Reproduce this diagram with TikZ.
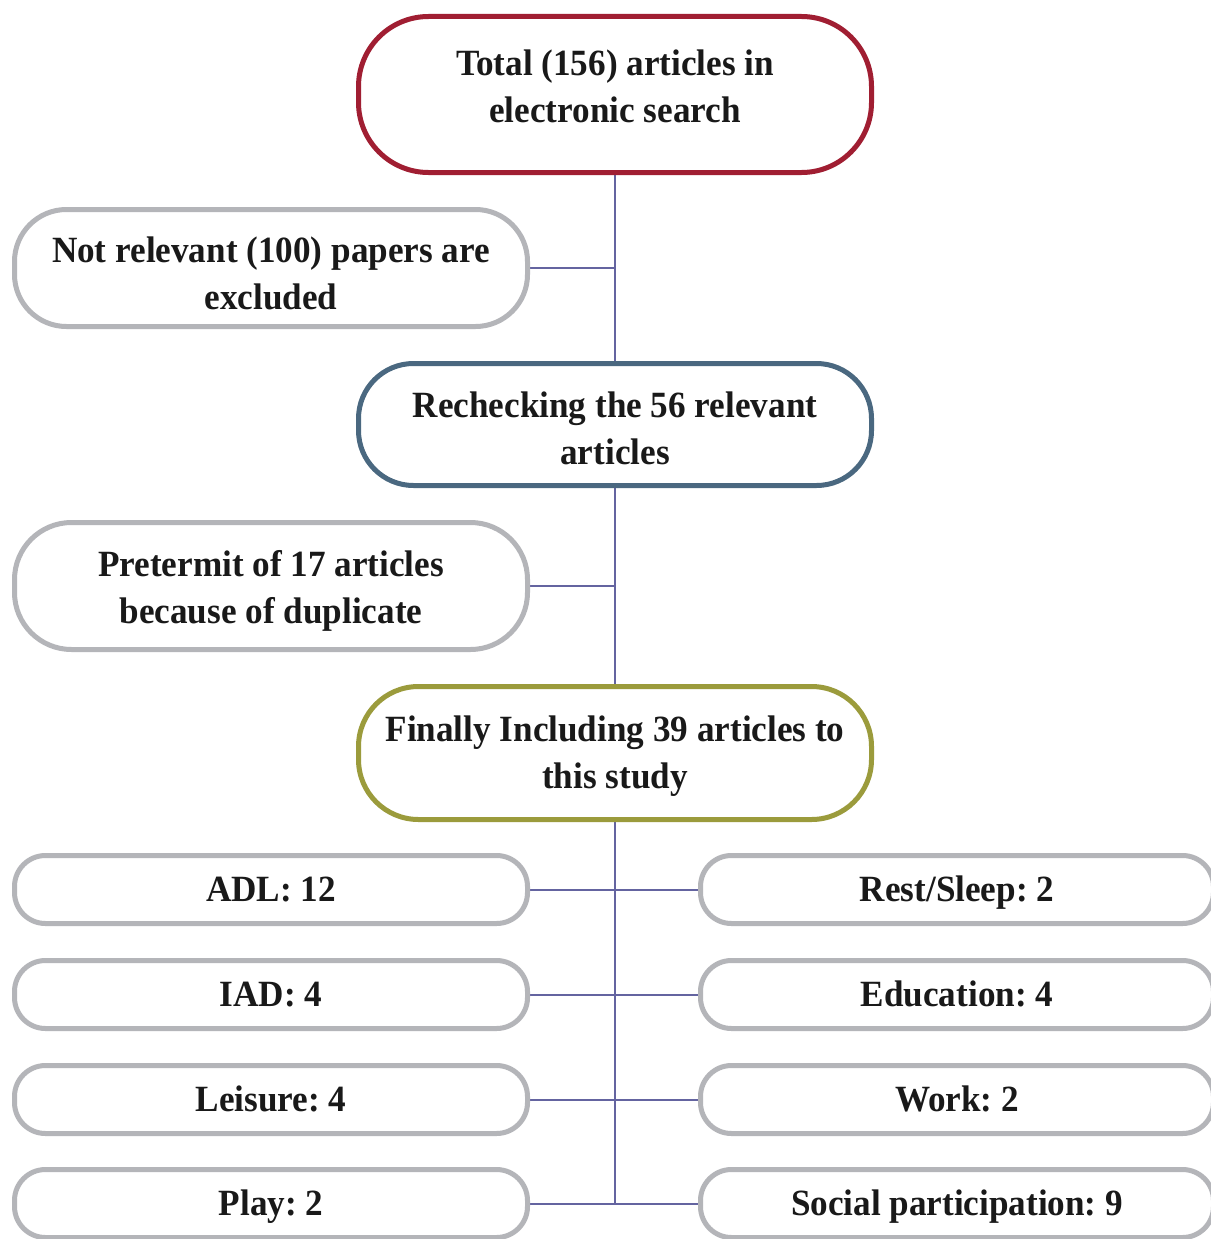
\documentclass[tikz,border=0pt]{standalone}
\usepackage{fontspec}
\setmainfont{Liberation Serif}[FakeStretch=0.95]
\frenchspacing
\definecolor{cred}{HTML}{A01E32}
\definecolor{cblue}{HTML}{4A6880}
\definecolor{colive}{HTML}{9B9B3C}
\definecolor{cgray}{HTML}{B4B5B9}
\definecolor{cline}{HTML}{6464A0}
\tikzset{
  box/.style={draw, line width=5pt, fill=white, minimum width=513pt, align=center,
    inner sep=0pt, font=\bfseries\fontsize{37}{47}\selectfont, text=black!90},
  graybox/.style={box, draw=cgray},
  smallbox/.style={graybox, minimum height=68pt, rounded corners=31pt,
    text height=30pt, text depth=7pt},
  boxtext/.style={align=center, inner sep=0pt, font=\bfseries\fontsize{37}{47}\selectfont, text=black!90},
  conn/.style={draw=cline, line width=2pt},
}
\begin{document}
\begin{tikzpicture}[x=1pt,y=-1pt]
\useasboundingbox (0,0) rectangle (1210,1239);
\fill[white] (0,0) rectangle (1210,1239);
\coordinate (bot) at (615,1203.5);
\coordinate (tc) at (615,94.5);
% connectors first (behind boxes)
\draw[conn] (tc) -- (bot);
\draw[conn] (271,268) -- (615,268);
\draw[conn] (271,586) -- (615,586);
\foreach \yy in {889.5,994.5,1099.5,1203.5}{
  \draw[conn] (271,\yy) -- (957,\yy);
}
% main boxes
\node[box, draw=cred, minimum height=156pt, rounded corners=70pt] (top) at (tc) {};
\node[boxtext, yshift=8pt] (toptext) at (top) {Total (156) articles in\\electronic search};
\node[graybox, minimum height=117pt, rounded corners=52pt] (notrel) at (271,268) {};
\node[boxtext, yshift=-5pt] (notreltext) at (notrel) {Not relevant (100) papers are\\excluded};
\node[box, draw=cblue, minimum height=122pt, rounded corners=55pt] (recheck) at (615,424.5) {};
\node[boxtext, yshift=-4pt] (rechecktext) at (recheck) {Rechecking the 56 relevant\\articles};
\node[graybox, minimum height=127pt, rounded corners=57pt] (pret) at (271,586) {};
\node[boxtext, yshift=-5pt] (prettext) at (pret) {Pretermit of 17 articles\\because of duplicate};
\node[box, draw=colive, minimum height=133pt, rounded corners=60pt] (final) at (615,753) {};
\node[boxtext, yshift=-3.5pt] (finaltext) at (final) {Finally Including 39 articles to\\this study};
% category boxes
\node[smallbox] (adl) at (271,889.5) {ADL: 12};
\node[smallbox] (iad) at (271,994.5) {IAD: 4};
\node[smallbox] (leis) at (271,1099.5) {Leisure: 4};
\node[smallbox] (play) at (271,1203.5) {Play: 2};
\node[smallbox] (rest) at (957,889.5) {Rest/Sleep: 2};
\node[smallbox] (edu) at (957,994.5) {Education: 4};
\node[smallbox] (work) at (957,1099.5) {Work: 2};
\node[smallbox] (soc) at (957,1203.5) {Social participation: 9};
\end{tikzpicture}
\end{document}
